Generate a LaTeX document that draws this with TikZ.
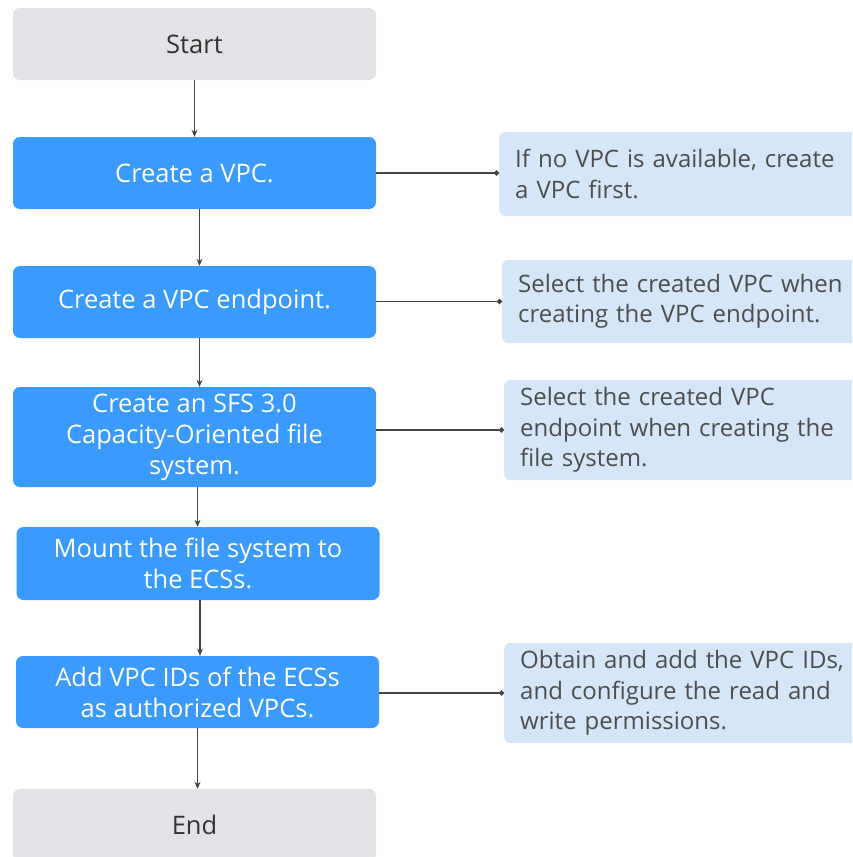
\documentclass[tikz,border=0pt]{standalone}
\usepackage{fontspec}
\setmainfont{Open Sans}
\usetikzlibrary{arrows.meta}
\definecolor{stepblue}{HTML}{3A9AFD}
\definecolor{termgray}{HTML}{E1E3E6}
\definecolor{notefill}{HTML}{D4E6F8}
\definecolor{notetext}{HTML}{4D4D4D}
\definecolor{linegray}{HTML}{444444}
\begin{document}
\begin{tikzpicture}[x=1pt,y=-1pt,
  basebox/.style={rounded corners=7pt, inner sep=0pt, align=center,
    minimum width=363pt, font=\fontsize{25.5}{31}\selectfont},
  stepbox/.style={basebox, fill=stepblue, text=white},
  termbox/.style={basebox, fill=termgray, text=black!80},
  notebox/.style={rounded corners=6pt, fill=notefill, text=notetext, anchor=west,
    inner xsep=16pt, inner ysep=0pt, text width=340pt, align=left,
    font=\fontsize{24}{30.5}\selectfont},
  flow/.style={draw=linegray, line width=1.4pt, -{Stealth[length=7pt,width=6pt]}},
  link/.style={draw=linegray, line width=1.4pt, -{Circle[length=5pt]}}
]
\useasboundingbox (0,0) rectangle (852,857);
\clip (0,0) rectangle (852,857);

\node[termbox, minimum height=72pt] (start) at (194.5,44) {Start};
\node[stepbox, minimum height=72pt] (vpc) at (194.5,173) {Create a VPC.};
\node[stepbox, minimum height=72pt] (ep) at (194.5,302) {Create a VPC endpoint.};
\node[stepbox, minimum height=100pt] (sfs) at (194.5,437) {Create an SFS 3.0\\Capacity-Oriented file\\system.};
\node[stepbox, minimum height=73pt] (mount) at (198,563.5) {Mount the file system to\\the ECSs.};
\node[stepbox, minimum height=72pt] (add) at (197.5,692) {Add VPC IDs of the ECSs\\as authorized VPCs.};
\node[termbox, minimum height=72pt] (end) at (194.5,825) {End};

\node[notebox, minimum height=84pt] (n1) at (499,174) {If no VPC is available, create\\a VPC first.};
\node[notebox, minimum height=83pt] (n2) at (502,301.5) {Select the created VPC when\\creating the VPC endpoint.};
\node[notebox, minimum height=100pt] (n3) at (504,430) {Select the created VPC\\endpoint when creating the\\file system.};
\node[notebox, minimum height=100pt] (n4) at (504,693) {Obtain and add the VPC IDs,\\and configure the read and\\write permissions.};

\draw[flow] (start.south) -- (start.south |- vpc.north);
\draw[flow] ([xshift=5pt]vpc.south) -- ([xshift=5pt]vpc.south |- ep.north);
\draw[flow] ([xshift=5pt]ep.south) -- ([xshift=5pt]ep.south |- sfs.north);
\draw[flow] ([xshift=3pt]sfs.south) -- ([xshift=3pt]sfs.south |- mount.north);
\draw[flow] ([xshift=2pt]mount.south) -- ([xshift=2pt]mount.south |- add.north);
\draw[flow] (add.south) -- (add.south |- end.north);

\draw[link] (vpc.east) -- (vpc.east -| n1.west);
\draw[link] (ep.east |- n2.west) -- (n2.west);
\draw[link] (sfs.east |- n3.west) -- (n3.west);
\draw[link] (add.east |- n4.west) -- (n4.west);
\end{tikzpicture}
\end{document}
